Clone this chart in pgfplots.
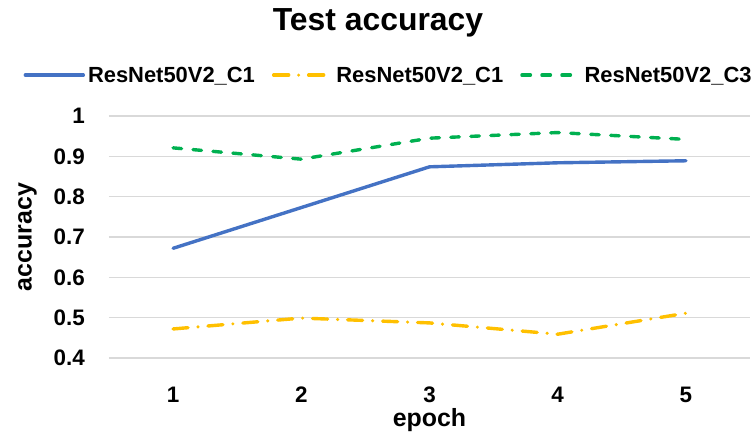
\documentclass[border=0pt]{standalone}
\usepackage{pgfplots}
\pgfplotsset{compat=1.18}
\usepackage{fontspec}
\setmainfont{Liberation Sans}
\definecolor{cblue}{HTML}{4472C4}
\definecolor{cyellow}{HTML}{FFC000}
\definecolor{cgreen}{HTML}{00B050}
\definecolor{cgrid}{HTML}{D9D9D9}
\begin{document}
\begin{tikzpicture}
\path[use as bounding box] (-109bp,-77bp) rectangle (643bp,358bp);
\begin{axis}[
  at={(0,0)}, anchor=south west, scale only axis,
  width=641bp, height=242bp,
  xmin=0.5, xmax=5.5, ymin=0.4, ymax=1,
  xtick={1,2,3,4,5},
  ytick={0.4,0.5,0.6,0.7,0.8,0.9,1},
  axis line style={draw=none},
  major tick length=0pt,
  ymajorgrids,
  grid style={cgrid, line width=1.2bp},
  /pgf/number format/assume math mode=true,
  /pgf/number format/fixed,
  tick label style={font=\bfseries\fontsize{22.5}{24}\selectfont, inner sep=0pt},
  xticklabel style={anchor=center, yshift=-37bp},
  yticklabel style={anchor=east, xshift=-24bp},
  xlabel={epoch}, ylabel={accuracy},
  label style={font=\bfseries\fontsize{25}{27}\selectfont},
  xlabel style={anchor=center, at={(axis description cs:0.5,-0.255)}},
  ylabel style={anchor=center, rotate=0, at={(axis description cs:-0.127,0.5)}},
  legend columns=3,
  legend style={draw=none, fill=none, at={(axis description cs:0.437,1.169)}, anchor=center,
    font=\bfseries\fontsize{22}{24}\selectfont, column sep=0pt, inner sep=0pt,
    nodes={inner xsep=3bp},
    /tikz/every even column/.append style={column sep=14bp}},
  legend image code/.code={\draw[#1] (0bp,0bp) -- (58bp,0bp);},
  every axis plot/.append style={line width=3.4bp},
]
\addplot[cblue, line cap=round] coordinates {(1,0.672) (2,0.773) (3,0.874) (4,0.884) (5,0.889)};
\addlegendentry{ResNet50V2\_C1}
\addplot[cyellow, line cap=round, dash pattern=on 15bp off 10bp on 0bp off 10bp] coordinates {(1,0.472) (2,0.499) (3,0.487) (4,0.459) (5,0.511)};
\addlegendentry{ResNet50V2\_C1}
\addplot[cgreen, line cap=round, dash pattern=on 8.5bp off 11.5bp] coordinates {(1,0.921) (2,0.893) (3,0.945) (4,0.959) (5,0.942)};
\addlegendentry{ResNet50V2\_C3}
\end{axis}
\node[font=\bfseries\fontsize{32}{34}\selectfont] at (269bp,335bp) {Test accuracy};
\end{tikzpicture}
\end{document}
